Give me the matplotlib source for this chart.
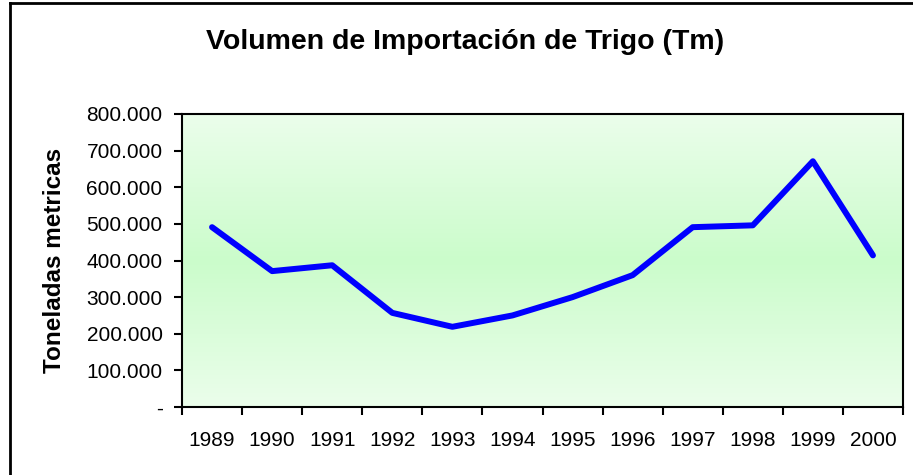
import matplotlib
matplotlib.use("Agg")
import matplotlib.pyplot as plt
import numpy as np
from matplotlib.colors import LinearSegmentedColormap
from matplotlib.lines import Line2D

plt.rcParams['font.family'] = ['Liberation Sans', 'DejaVu Sans']

years = ["1989", "1990", "1991", "1992", "1993", "1994",
         "1995", "1996", "1997", "1998", "1999", "2000"]
toneladas = [491000, 371000, 387000, 257000, 219000, 250000,
             300000, 360000, 491000, 496000, 671000, 414000]
yticks = [0, 100000, 200000, 300000, 400000, 500000, 600000, 700000, 800000]
ytick_labels = ["-", "100.000", "200.000", "300.000", "400.000",
                "500.000", "600.000", "700.000", "800.000"]

fig = plt.figure(figsize=(9.13, 4.75), dpi=100)
ax = fig.add_axes([182/913, 68/475, 721/913, 293/475])

# vertical gradient: pale at top and bottom, greener in the middle
cmap = LinearSegmentedColormap.from_list("bg", ["#ebfeeb", "#cbfccb", "#ebfeeb"])
grad = np.linspace(0, 1, 256).reshape(-1, 1)
ax.imshow(grad, cmap=cmap, aspect="auto", extent=(-0.5, 11.5, 0, 800000),
          origin="lower", zorder=0)

x = np.arange(len(years))
ax.plot(x, toneladas, color="#0000ff", linewidth=4.3, solid_capstyle="round",
        solid_joinstyle="round", zorder=3)

ax.set_xlim(-0.5, 11.5)
ax.set_ylim(0, 800000)
ax.set_yticks(yticks)
ax.set_yticklabels(ytick_labels)

# category labels between tick marks
ax.set_xticks(np.arange(-0.5, 12, 1))
ax.set_xticklabels([])
ax.set_xticks(x, minor=True)
ax.set_xticklabels(years, minor=True)
ax.tick_params(axis="x", which="minor", length=0, pad=17, labelsize=15)
ax.tick_params(axis="x", which="major", direction="out", length=6, width=1.5)
ax.tick_params(axis="y", direction="out", length=6, width=1.5, pad=8, labelsize=15)

for s in ax.spines.values():
    s.set_linewidth(1.5)

ax.set_ylabel("Toneladas metricas", fontsize=17.5, fontweight="bold", labelpad=15)
fig.text(465/913, 1 - 42/475, "Volumen de Importación de Trigo (Tm)",
         ha="center", va="center", fontsize=20.5, fontweight="bold")

# outer chart frame (only top and left visible)
fig.add_artist(Line2D([10/913, 10/913], [0, 1 - 3/475], color="black",
                      linewidth=2, transform=fig.transFigure))
fig.add_artist(Line2D([10/913, 1], [1 - 3/475, 1 - 3/475], color="black",
                      linewidth=2, transform=fig.transFigure))

fig.savefig("out.png", dpi=100)
